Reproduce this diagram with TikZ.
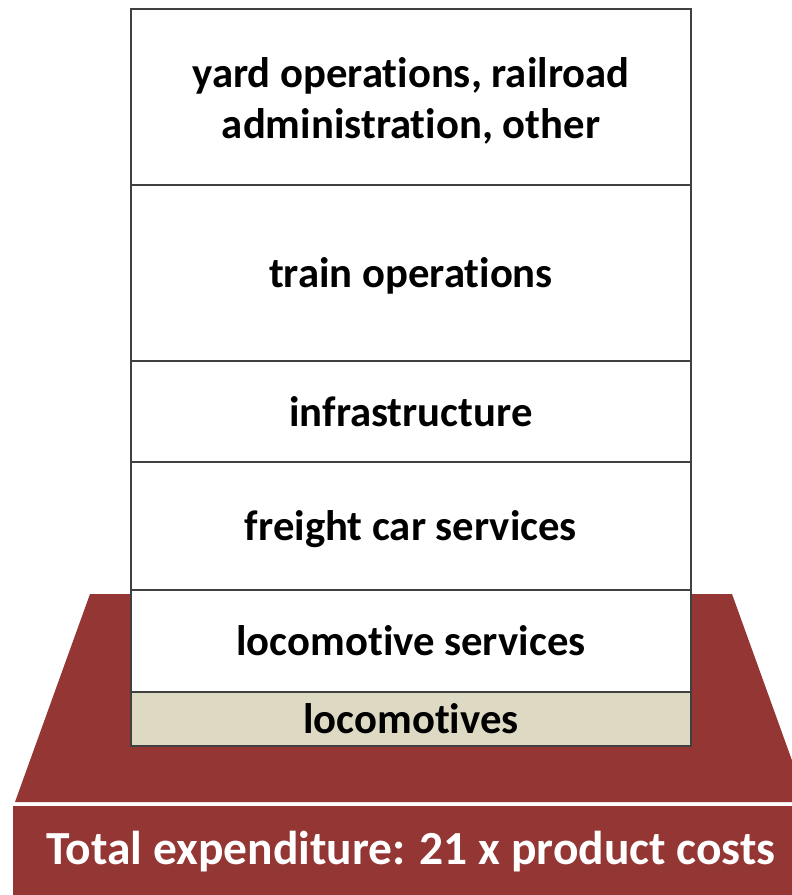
\documentclass[tikz,border=0pt]{standalone}
\usepackage{fontspec}
\setmainfont[Ligatures=NoCommon]{Carlito}
\definecolor{brick}{HTML}{943634}
\definecolor{sand}{HTML}{DDD9C3}
\definecolor{edge}{HTML}{404040}
\begin{document}
\begin{tikzpicture}[x=1pt,y=-1pt,
  layer/.style={draw=edge,line width=2pt,fill=white,minimum width=560pt,inner sep=0pt,anchor=north},
  lbl/.style={inner sep=0pt,anchor=base,font=\fontsize{42.7}{51}\selectfont\bfseries},
  basebar/.style={fill=brick,draw=none}]
\useasboundingbox (0,0) rectangle (792,895);
\begin{scope}
\clip (0,0) rectangle (792,895);
\fill[brick] (90,594) -- (732,594) -- (807,802) -- (15,802) -- cycle;
\node[basebar,minimum width=796pt,minimum height=89pt,anchor=north west,inner sep=0pt] (total) at (13,806) {};
\end{scope}
\node[inner sep=0pt,anchor=base,font=\fontsize{47.5}{56}\selectfont\bfseries,text=white] (totaltext) at (411,864) {Total expenditure: 21 x product costs};
\node[layer,minimum height=176pt] (yard) at (411,8) {};
\node[layer,minimum height=176pt] (train) at (411,184) {};
\node[layer,minimum height=101pt] (infra) at (411,360) {};
\node[layer,minimum height=128pt] (freight) at (411,461) {};
\node[layer,minimum height=102pt] (locserv) at (411,589) {};
\node[layer,minimum height=54pt,fill=sand] (loco) at (411,691) {};
\node[lbl] (yardA) at (411,87.5) {yard operations, railroad};
\node[lbl] (yardB) at (411,138) {administration, other};
\node[lbl] (trainT) at (411,287.5) {train operations};
\node[lbl] (infraT) at (411,426) {infrastructure};
\node[lbl] (freightT) at (411,540.7) {freight car services};
\node[lbl] (locservT) at (411,655) {locomotive services};
\node[lbl] (locoT) at (411,733) {locomotives};
\end{tikzpicture}
\end{document}
